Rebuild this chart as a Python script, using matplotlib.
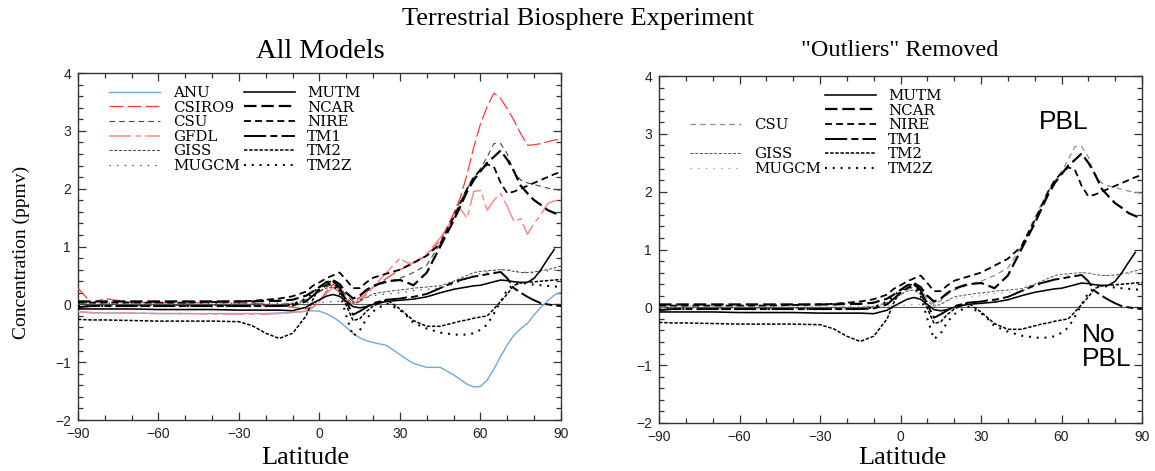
import numpy as np
import matplotlib
matplotlib.use("Agg")
import matplotlib.pyplot as plt
from matplotlib.ticker import MultipleLocator
from matplotlib.lines import Line2D

plt.rcParams['font.family'] = ['Liberation Sans', 'DejaVu Sans']
plt.rcParams['lines.scale_dashes'] = False

# ---------------- data ----------------
LAT = [-90, -85, -80, -70, -60, -50, -40, -30, -25,
       -20, -15, -10, -5, -2.5, 0,
       2.5, 5, 7.5, 10, 12.5, 15, 17.5, 20,
       25, 30, 32.5, 35, 40, 45, 50,
       52.5, 55, 57.5, 60, 62.5, 65, 67.5, 70,
       72.5, 75, 77.5, 80, 82.5, 85, 87.5, 90]

ANU = [-0.13, -0.14, -0.15, -0.15, -0.16, -0.16, -0.16, -0.16, -0.16,
       -0.16, -0.15, -0.14, -0.12, -0.11, -0.12,
       -0.16, -0.22, -0.30, -0.40, -0.50, -0.58, -0.63, -0.66,
       -0.71, -0.87, -0.95, -1.02, -1.09, -1.09, -1.22,
       -1.30, -1.38, -1.43, -1.42, -1.31, -1.12, -0.90, -0.70,
       -0.53, -0.42, -0.33, -0.18, -0.05, 0.06, 0.16, 0.21]

CSIRO9 = [0.28, 0.02, 0.10, 0.03, 0.03, 0.02, 0.03, 0.02, 0.02,
          0.00, -0.02, -0.05, -0.08, -0.05, 0.05,
          0.22, 0.35, 0.25, 0.08, -0.01, 0.05, 0.18, 0.30,
          0.45, 0.60, 0.65, 0.70, 0.85, 1.10, 1.57,
          1.85, 2.25, 2.72, 3.12, 3.42, 3.65, 3.56, 3.38,
          3.18, 2.95, 2.75, 2.76, 2.78, 2.81, 2.84, 2.86]

CSU = [0.00, -0.01, -0.02, -0.02, -0.02, -0.02, -0.02, -0.02, -0.02,
       -0.02, -0.02, 0.00, 0.08, 0.15, 0.22,
       0.30, 0.35, 0.30, 0.15, 0.05, 0.12, 0.22, 0.30,
       0.38, 0.45, 0.50, 0.55, 0.68, 1.05, 1.55,
       1.78, 2.00, 2.18, 2.35, 2.55, 2.78, 2.78, 2.60,
       2.28, 2.15, 2.10, 2.07, 2.04, 2.01, 1.99, 1.97]

GFDL = [-0.12, -0.15, -0.15, -0.15, -0.16, -0.16, -0.17, -0.17, -0.17,
        -0.17, -0.16, -0.14, -0.12, -0.06, 0.05,
        0.18, 0.30, 0.20, 0.05, 0.00, 0.10, 0.20, 0.30,
        0.55, 0.80, 0.72, 0.71, 0.88, 1.15, 1.50,
        1.65, 1.49, 1.95, 1.97, 1.63, 1.80, 1.92, 1.69,
        1.43, 1.48, 1.21, 1.40, 1.55, 1.74, 1.79, 1.80]

GISS = [0.00, 0.00, 0.00, 0.00, 0.00, 0.00, 0.00, 0.00, 0.00,
        0.00, 0.00, 0.02, 0.08, 0.15, 0.22,
        0.28, 0.30, 0.22, 0.10, 0.02, 0.05, 0.12, 0.18,
        0.22, 0.25, 0.26, 0.28, 0.30, 0.32, 0.40,
        0.45, 0.50, 0.55, 0.57, 0.58, 0.59, 0.60, 0.59,
        0.57, 0.55, 0.55, 0.56, 0.58, 0.60, 0.63, 0.66]

MUGCM = [0.02, 0.02, 0.02, 0.02, 0.02, 0.02, 0.02, 0.02, 0.02,
         0.02, 0.02, 0.02, 0.03, 0.03, 0.03,
         0.04, 0.05, 0.05, 0.04, 0.05, 0.08, 0.12, 0.15,
         0.18, 0.20, 0.22, 0.24, 0.26, 0.28, 0.35,
         0.40, 0.45, 0.50, 0.53, 0.56, 0.58, 0.60, 0.60,
         0.58, 0.56, 0.55, 0.55, 0.56, 0.58, 0.59, 0.60]

MUTM = [-0.08, -0.08, -0.08, -0.08, -0.09, -0.09, -0.09, -0.10, -0.10,
        -0.10, -0.10, -0.11, -0.05, 0.02, 0.08,
        0.14, 0.17, 0.14, 0.05, -0.04, -0.06, -0.04, 0.00,
        0.05, 0.07, 0.08, 0.09, 0.13, 0.20, 0.26,
        0.28, 0.30, 0.32, 0.33, 0.36, 0.39, 0.42, 0.41,
        0.39, 0.38, 0.38, 0.45, 0.60, 0.78, 0.95, np.nan]

NCAR = [0.05, 0.05, 0.05, 0.05, 0.05, 0.05, 0.05, 0.05, 0.05,
        0.06, 0.06, 0.08, 0.15, 0.22, 0.30,
        0.38, 0.42, 0.35, 0.20, 0.10, 0.15, 0.25, 0.32,
        0.40, 0.42, 0.38, 0.33, 0.55, 1.00, 1.45,
        1.70, 1.95, 2.15, 2.30, 2.45, 2.55, 2.66, 2.50,
        2.30, 2.05, 1.92, 1.80, 1.72, 1.63, 1.58, 1.54]

NIRE = [0.03, 0.03, 0.03, 0.03, 0.03, 0.03, 0.04, 0.05, 0.06,
        0.08, 0.10, 0.14, 0.22, 0.32, 0.38,
        0.45, 0.50, 0.55, 0.42, 0.28, 0.28, 0.38, 0.46,
        0.53, 0.60, 0.66, 0.72, 0.84, 1.05, 1.50,
        1.75, 2.00, 2.20, 2.32, 2.42, 2.38, 2.10, 1.92,
        1.95, 2.00, 2.05, 2.10, 2.15, 2.20, 2.25, 2.29]

TM1 = [-0.05, -0.03, -0.03, -0.03, -0.03, -0.03, -0.03, -0.03, -0.03,
       -0.03, -0.03, -0.02, 0.05, 0.15, 0.25,
       0.33, 0.40, 0.30, 0.05, -0.18, -0.12, -0.05, 0.02,
       0.08, 0.10, 0.12, 0.13, 0.18, 0.28, 0.38,
       0.42, 0.45, 0.48, 0.50, 0.52, 0.54, 0.56, 0.45,
       0.28, 0.20, 0.13, 0.07, 0.02, 0.00, -0.02, -0.03]

TM2 = [-0.26, -0.27, -0.27, -0.28, -0.29, -0.29, -0.29, -0.30, -0.37,
       -0.50, -0.59, -0.50, -0.20, 0.08, 0.30,
       0.38, 0.40, 0.25, -0.02, -0.28, -0.25, -0.12, -0.03,
       0.08, -0.08, -0.18, -0.28, -0.38, -0.38, -0.32,
       -0.29, -0.27, -0.24, -0.22, -0.20, -0.08, 0.05, 0.18,
       0.33, 0.37, 0.38, 0.39, 0.40, 0.41, 0.42, 0.43]

TM2Z = [-0.03, -0.03, -0.03, -0.03, -0.03, -0.03, -0.03, -0.03, -0.03,
        -0.03, -0.03, 0.00, 0.10, 0.20, 0.30,
        0.35, 0.35, 0.20, -0.20, -0.55, -0.45, -0.25, -0.12,
        0.02, -0.10, -0.20, -0.32, -0.42, -0.49, -0.52,
        -0.53, -0.52, -0.50, -0.44, -0.35, -0.16, 0.05, 0.25,
        0.35, 0.37, 0.36, 0.34, 0.33, 0.32, 0.31, 0.30]

SERIES = {"ANU": ANU, "CSIRO9": CSIRO9, "CSU": CSU, "GFDL": GFDL,
          "GISS": GISS, "MUGCM": MUGCM, "MUTM": MUTM, "NCAR": NCAR,
          "NIRE": NIRE, "TM1": TM1, "TM2": TM2, "TM2Z": TM2Z}

LEFT_MODELS = ["ANU", "CSIRO9", "CSU", "GFDL", "GISS", "MUGCM",
               "MUTM", "NCAR", "NIRE", "TM1", "TM2", "TM2Z"]
RIGHT_MODELS = [None, None, "CSU", None, "GISS", "MUGCM",
                "MUTM", "NCAR", "NIRE", "TM1", "TM2", "TM2Z"]

# ---------------- styles ----------------
STYLE = {
    "ANU":    dict(color="#6fa8dc", lw=1.0, ls="-"),
    "CSIRO9": dict(color="#ff3b3b", lw=0.9, ls=(0, (10, 3))),
    "CSU":    dict(color="#444444", lw=0.8, ls=(0, (4, 3))),
    "GFDL":   dict(color="#ff8c8c", lw=1.1, ls=(0, (16, 3, 4, 3))),
    "GISS":   dict(color="#444444", lw=0.7, ls=(0, (2.2, 1.2))),
    "MUGCM":  dict(color="#444444", lw=0.9, ls=(0, (1.0, 4.5))),
    "MUTM":   dict(color="black", lw=1.15, ls="-"),
    "NCAR":   dict(color="black", lw=1.6, ls=(0, (9, 3.5))),
    "NIRE":   dict(color="black", lw=1.3, ls=(0, (5, 3))),
    "TM1":    dict(color="black", lw=1.4, ls=(0, (16, 3, 5, 3))),
    "TM2":    dict(color="black", lw=1.1, ls=(0, (2.5, 1.2))),
    "TM2Z":   dict(color="black", lw=1.5, ls=(0, (1.4, 4.2))),
}
RIGHT_OVERRIDE = {
    "CSU":   dict(color="#8c8c8c", lw=0.9),
    "GISS":  dict(color="#555555", lw=0.7),
    "MUGCM": dict(color="#a0a0a0", lw=0.9),
}

W, H = 1155, 471
fig = plt.figure(figsize=(W / 100, H / 100), dpi=100)
axL = fig.add_axes([78 / W, 1 - 420 / H, 483 / W, 347 / H])
axR = fig.add_axes([659 / W, 1 - 423 / H, 483 / W, 347 / H])

lat = np.array(LAT)


def style_axes(ax):
    ax.set_xlim(-90, 90)
    ax.set_ylim(-2, 4)
    ax.xaxis.set_major_locator(MultipleLocator(30))
    ax.xaxis.set_minor_locator(MultipleLocator(10))
    ax.yaxis.set_major_locator(MultipleLocator(1))
    ax.yaxis.set_minor_locator(MultipleLocator(0.2))
    ax.tick_params(which="both", direction="in", top=True, right=True,
                   color="#333333", width=0.9)
    ax.tick_params(which="major", length=5.5, labelsize=10, pad=5,
                   labelcolor="#222222")
    ax.tick_params(which="minor", length=3.5)
    for s in ax.spines.values():
        s.set_color("#333333")
        s.set_linewidth(1.0)
    ax.axhline(0, color="#555555", lw=0.8, zorder=1)


def make_legend(ax, models, override):
    handles, labels = [], []
    for m in models:
        if m is None:
            handles.append(Line2D([], [], lw=0, color="none"))
            labels.append(" ")
        else:
            st = dict(STYLE[m])
            st.update(override.get(m, {}))
            handles.append(Line2D([], [], color=st["color"], lw=st["lw"],
                                  ls=st["ls"]))
            labels.append(m)
    leg = ax.legend(handles, labels, ncol=2, loc="upper left",
                    bbox_to_anchor=(31 / 483, 1 - 13 / 347),
                    frameon=False, borderpad=0, borderaxespad=0,
                    handlelength=3.4, handletextpad=0.85,
                    columnspacing=0.25, labelspacing=0.04,
                    prop=dict(family="DejaVu Serif", size=10.8))
    return leg


# left panel
style_axes(axL)
for m in LEFT_MODELS:
    axL.plot(lat, SERIES[m], **STYLE[m], zorder=3)
make_legend(axL, LEFT_MODELS, {})

# right panel
style_axes(axR)
for m in RIGHT_MODELS:
    if m is None:
        continue
    st = dict(STYLE[m])
    st.update(RIGHT_OVERRIDE.get(m, {}))
    axR.plot(lat, SERIES[m], **st, zorder=3)
make_legend(axR, RIGHT_MODELS, RIGHT_OVERRIDE)

axR.text(61, 3.2, "PBL", ha="center", va="center", fontsize=19,
         family="Liberation Sans")
axR.text(67.5, -0.68, "No\nPBL", ha="left", va="center", fontsize=19,
         family="Liberation Sans", linespacing=1.0)

serif = dict(family="Liberation Serif")
fig.text(0.500, 1 - 19 / H, "Terrestrial Biosphere Experiment",
         ha="center", va="center", fontsize=19, **serif)
fig.text(320 / W, 1 - 51 / H, "All Models", ha="center", va="center",
         fontsize=20.5, **serif)
fig.text(900 / W, 1 - 51 / H, "\"Outliers\" Removed", ha="center",
         va="center", fontsize=17.5, **serif)
fig.text(305 / W, 1 - 458 / H, "Latitude", ha="center", va="center",
         fontsize=19, **serif)
fig.text(902 / W, 1 - 458 / H, "Latitude", ha="center", va="center",
         fontsize=19, **serif)
fig.text(21 / W, 1 - 252 / H, "Concentration (ppmv)", ha="center",
         va="center", rotation=90, fontsize=14, **serif)

fig.savefig("out.png", dpi=100)
